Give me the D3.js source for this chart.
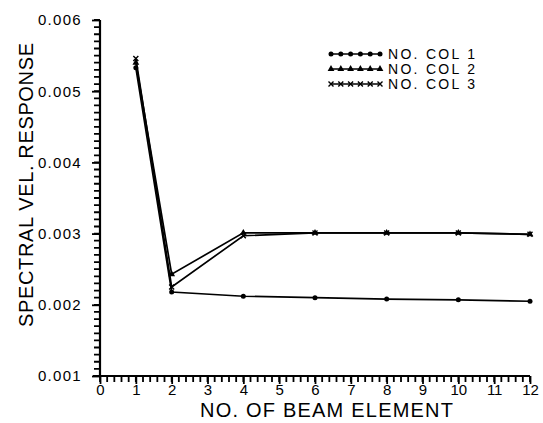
<!DOCTYPE html>
<html>
<head>
<meta charset="utf-8">
<script src="https://cdn.jsdelivr.net/npm/d3@7"></script>
<style>
  body { margin: 0; background: #fff; }
  text { font-family: "Liberation Sans", Arial, sans-serif; fill: #000; }
</style>
</head>
<body>
<div id="chart"></div>
<script>
// data
var elements = [1, 2, 4, 6, 8, 10, 12];
var col1 = [0.00533, 0.00218, 0.00212, 0.00210, 0.00208, 0.00207, 0.00205];
var col2 = [0.00540, 0.00243, 0.00301, 0.00301, 0.00301, 0.00301, 0.00299];
var col3 = [0.00546, 0.00225, 0.00297, 0.00301, 0.00301, 0.00301, 0.00299];
var seriesNames = ["NO. COL 1", "NO. COL 2", "NO. COL 3"];
var xTicks = [0, 1, 2, 3, 4, 5, 6, 7, 8, 9, 10, 11, 12];
var yTicks = [0.001, 0.002, 0.003, 0.004, 0.005, 0.006];

var series = [
  {name: seriesNames[0], values: col1, marker: "circle"},
  {name: seriesNames[1], values: col2, marker: "triangle"},
  {name: seriesNames[2], values: col3, marker: "cross"}
];

var margin = {top: 20, right: 13, bottom: 47, left: 100},
    width = 543 - margin.left - margin.right,
    height = 423 - margin.top - margin.bottom;

var svg = d3.select("#chart")
  .append("svg")
    .attr("width", 543)
    .attr("height", 423)
  .append("g")
    .attr("transform", "translate(" + margin.left + "," + margin.top + ")");

var x = d3.scaleLinear().domain([0, 12]).range([0, width]);
var y = d3.scaleLinear().domain([0.001, 0.006]).range([height, 0]);

// minor ticks (one path per axis so every small tick is drawn)
var xMinor = d3.range(0, 61).map(i => i / 5);
var yMinor = d3.range(0, 51).map(i => 0.001 + i / 10000);

svg.append("path")
  .attr("d", xMinor.map(d => "M" + x(d) + "," + height + "v6").join(""))
  .attr("stroke", "#000")
  .attr("stroke-width", 1.8)
  .attr("fill", "none");

svg.append("path")
  .attr("d", yMinor.map(d => "M0," + y(d) + "h-6").join(""))
  .attr("stroke", "#000")
  .attr("stroke-width", 1.8)
  .attr("fill", "none");

// X axis
var xAxis = svg.append("g")
  .attr("transform", "translate(0," + height + ")")
  .call(d3.axisBottom(x).tickValues(xTicks).tickSize(8).tickPadding(0).tickFormat(d3.format("d")));
xAxis.select(".domain").attr("stroke-width", 2.2).attr("d", "M-7,0H" + width);
xAxis.selectAll(".tick line").attr("stroke-width", 1.8);
xAxis.selectAll("text").style("font-size", "15px");

// Y axis
var yAxis = svg.append("g")
  .call(d3.axisLeft(y).tickValues(yTicks).tickSize(8).tickPadding(10).tickFormat(d3.format(".3f")));
yAxis.select(".domain").attr("stroke-width", 2.2).attr("d", "M0," + (height + 1) + "V0");
yAxis.selectAll(".tick line").attr("stroke-width", 1.8);
yAxis.selectAll("text").style("font-size", "15px").style("letter-spacing", "1.3px");

// axis labels
svg.append("text")
  .attr("x", 326.5 - margin.left)
  .attr("y", 417 - margin.top)
  .attr("text-anchor", "middle")
  .attr("textLength", 253)
  .attr("lengthAdjust", "spacing")
  .style("font-size", "20px")
  .text("NO. OF BEAM ELEMENT");

svg.append("text")
  .attr("transform", "translate(" + (33 - margin.left) + "," + (185 - margin.top) + ") rotate(-90)")
  .attr("text-anchor", "middle")
  .attr("textLength", 284)
  .attr("lengthAdjust", "spacing")
  .style("font-size", "20px")
  .text("SPECTRAL VEL. RESPONSE");

// markers
function drawMarker(g, type, cx, cy) {
  if (type === "circle") {
    g.append("circle").attr("cx", cx).attr("cy", cy).attr("r", 2.5).attr("fill", "#000");
  } else if (type === "triangle") {
    g.append("path")
      .attr("d", d3.symbol().type(d3.symbolTriangle).size(20)())
      .attr("transform", "translate(" + cx + "," + cy + ")")
      .attr("fill", "#000");
  } else {
    g.append("path")
      .attr("d", "M-2.5,-2.5L2.5,2.5M-2.5,2.5L2.5,-2.5")
      .attr("transform", "translate(" + cx + "," + cy + ")")
      .attr("stroke", "#000").attr("stroke-width", 1.4);
  }
}

var line = d3.line()
  .x((d, i) => x(elements[i]))
  .y(d => y(d));

series.forEach(function(s) {
  var g = svg.append("g");
  g.append("path")
    .datum(s.values)
    .attr("d", line)
    .attr("fill", "none")
    .attr("stroke", "#000")
    .attr("stroke-width", 1.7);
  s.values.forEach(function(v, i) {
    drawMarker(g, s.marker, x(elements[i]), y(v));
  });
});

// legend
var legend = svg.selectAll(".legend")
  .data(series)
  .enter().append("g")
  .attr("class", "legend")
  .attr("transform", (d, i) => "translate(" + (331 - margin.left) + "," + (54 - margin.top + i * 15) + ")");

legend.append("line")
  .attr("x1", 0).attr("x2", 49)
  .attr("stroke", "#000").attr("stroke-width", 1.7);

legend.each(function(d) {
  var g = d3.select(this);
  d3.range(0, 6).forEach(function(k) { drawMarker(g, d.marker, k * 9.8, 0); });
});

legend.append("text")
  .attr("x", 57)
  .attr("y", 5)
  .attr("textLength", 87)
  .attr("lengthAdjust", "spacing")
  .style("font-size", "14px")
  .text(d => d.name);
</script>
</body>
</html>
